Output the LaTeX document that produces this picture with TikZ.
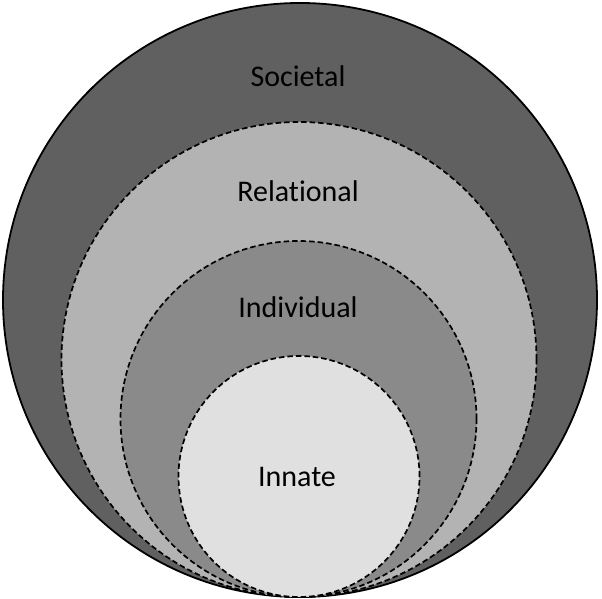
\documentclass[tikz,border=0pt]{standalone}
\usepackage{fontspec}
\setmainfont[Ligatures=CommonOff]{Carlito}
\definecolor{socC}{HTML}{606060}
\definecolor{relC}{HTML}{B3B3B3}
\definecolor{indC}{HTML}{8A8A8A}
\definecolor{innC}{HTML}{E0E0E0}
\tikzset{
  ring/.style={draw=black, line width=1.7pt, dash pattern=on 5.5pt off 3pt},
  lab/.style={font=\fontsize{30}{34}\selectfont, anchor=base, inner sep=0pt}
}
\begin{document}
\begin{tikzpicture}[x=1pt,y=1pt]
\useasboundingbox (0,0) rectangle (602,599);
\fill[white] (0,0) rectangle (602,599);
\draw[fill=socC, line width=1.8pt] (300,299) circle (297);
\draw[ring, fill=relC] (299,239.5) circle (237.5);
\draw[ring, fill=indC] (298.5,180) circle (178);
\draw[ring, fill=innC] (299,122.5) circle (120.5);
\node[lab] (soc) at (298,512) {Societal};
\node[lab] (rel) at (298,397) {Relational};
\node[lab] (ind) at (298,281) {Individual};
\node[lab] (inn) at (297,112) {Innate};
\end{tikzpicture}
\end{document}
